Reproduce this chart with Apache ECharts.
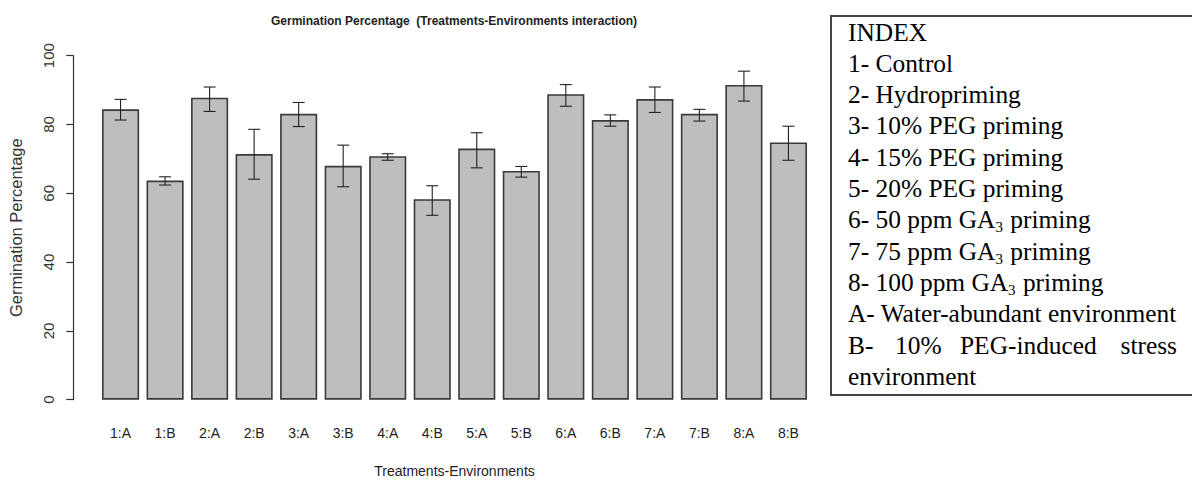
<!DOCTYPE html>
<html>
<head>
<meta charset="utf-8">
<script src="https://cdn.jsdelivr.net/npm/echarts@6/dist/echarts.min.js"></script>
<style>
  html, body { margin: 0; padding: 0; background: #fff; }
  #chart { width: 1192px; height: 483px; }
</style>
</head>
<body>
<div id="chart"></div>
<script>
// Treatment:environment combinations
const categories = ['1:A', '1:B', '2:A', '2:B', '3:A', '3:B', '4:A', '4:B',
                    '5:A', '5:B', '6:A', '6:B', '7:A', '7:B', '8:A', '8:B'];
// Mean germination percentage
const germination = [84.4, 63.7, 87.8, 71.4, 83.1, 68.0, 70.8, 58.3,
                     73.0, 66.5, 88.8, 81.3, 87.4, 83.1, 91.5, 74.8];
// Error bar limits
const errLow  = [81.3, 62.4, 83.8, 64.1, 79.4, 61.9, 69.6, 53.6,
                 67.4, 64.7, 85.3, 79.5, 83.5, 81.0, 86.8, 69.6];
const errHigh = [87.3, 64.8, 90.9, 78.6, 86.4, 74.0, 71.5, 62.2,
                 77.6, 67.8, 91.6, 82.8, 90.9, 84.4, 95.5, 79.5];
// Y axis ticks
const yTicks = [0, 20, 40, 60, 80, 100];

// Index box entries; {s|..} marks a subscript
const indexLines = [
  'INDEX',
  '1- Control',
  '2- Hydropriming',
  '3- 10% PEG priming',
  '4- 15% PEG priming',
  '5- 20% PEG priming',
  '6- 50 ppm GA{s|3} priming',
  '7- 75 ppm GA{s|3} priming',
  '8- 100 ppm GA{s|3} priming',
  'A- Water-abundant environment'
];
const indexLastWords = ['B-', '10%', 'PEG-induced', 'stress'];
const indexLastLine = 'environment';

const chart = echarts.init(document.getElementById('chart'), null, { renderer: 'svg' });

const sansFont = 'Liberation Sans, Arial, sans-serif';
const serifFont = 'Liberation Serif, Times New Roman, serif';

const boxX = 831, boxTop = 16, textX = 848, firstBaseline = 44, lineStep = 31.3, serifSize = 25.4;

const graphics = [{
  type: 'rect',
  shape: { x: boxX, y: boxTop, width: 400, height: 379 },
  style: { fill: '#fff', stroke: '#444', lineWidth: 2 },
  z: 0
}];

indexLines.forEach((t, i) => {
  graphics.push({
    type: 'text',
    x: textX,
    y: firstBaseline + i * lineStep,
    style: {
      text: t,
      font: serifSize + 'px ' + serifFont,
      fill: '#000',
      verticalAlign: 'bottom',
      rich: {
        s: { fontSize: 15, fontFamily: serifFont, fill: '#000', verticalAlign: 'bottom', padding: [0, 1, -3, 0] }
      }
    },
    z: 2
  });
});

// justified line "B- 10% PEG-induced stress"
const bWordX = [848, 895, 960, 1177];
indexLastWords.forEach((w, i) => {
  graphics.push({
    type: 'text',
    x: bWordX[i],
    y: firstBaseline + indexLines.length * lineStep,
    style: {
      text: w,
      font: serifSize + 'px ' + serifFont,
      fill: '#000',
      align: i === indexLastWords.length - 1 ? 'right' : 'left',
      verticalAlign: 'bottom'
    },
    z: 2
  });
});
graphics.push({
  type: 'text',
  x: textX,
  y: firstBaseline + (indexLines.length + 1) * lineStep,
  style: { text: indexLastLine, font: serifSize + 'px ' + serifFont, fill: '#000', verticalAlign: 'bottom' },
  z: 2
});

const option = {
  backgroundColor: '#fff',
  animation: false,
  title: {
    text: 'Germination Percentage  (Treatments-Environments interaction)',
    left: 449,
    textAlign: 'center',
    top: 10,
    textStyle: {
      fontFamily: sansFont,
      fontWeight: 'bold',
      fontSize: 12,
      color: '#222'
    }
  },
  grid: { left: 98.3, right: 381.3, top: 55.7, bottom: 83.3, containLabel: false, outerBoundsMode: 'none' },
  xAxis: {
    type: 'category',
    data: categories,
    name: 'Treatments-Environments',
    nameLocation: 'middle',
    nameGap: 64,
    nameMoveOverlap: false,
    nameTextStyle: { fontFamily: sansFont, fontSize: 14, color: '#222' },
    axisLine: { show: false },
    axisTick: { show: false },
    axisLabel: { fontFamily: sansFont, fontSize: 14, color: '#222', margin: 26, interval: 0 }
  },
  yAxis: {
    type: 'value',
    min: yTicks[0],
    max: yTicks[yTicks.length - 1],
    interval: yTicks[1] - yTicks[0],
    offset: 25,
    name: 'Germination Percentage',
    nameLocation: 'middle',
    nameGap: 49,
    nameMoveOverlap: false,
    nameTextStyle: { fontFamily: sansFont, fontSize: 16.5, color: '#333' },
    axisLine: { show: true, lineStyle: { color: '#333', width: 1.2 } },
    axisTick: { show: true, length: 7, lineStyle: { color: '#333', width: 1.2 } },
    axisLabel: { fontFamily: sansFont, fontSize: 15, color: '#333', rotate: 90, margin: 17 },
    splitLine: { show: false }
  },
  series: [
    {
      type: 'bar',
      data: germination,
      barCategoryGap: '16.67%',
      itemStyle: { color: '#bebebe', borderColor: '#3a3a3a', borderWidth: 1.6 },
      z: 2
    },
    {
      type: 'custom',
      data: categories.map((c, i) => [i, errLow[i], errHigh[i]]),
      encode: { x: 0, y: [1, 2] },
      renderItem: function (params, api) {
        const lo = api.coord([api.value(0), api.value(1)]);
        const hi = api.coord([api.value(0), api.value(2)]);
        const hw = 6;
        const st = { stroke: '#222', lineWidth: 1.1 };
        return {
          type: 'group',
          children: [
            { type: 'line', shape: { x1: hi[0], y1: hi[1], x2: lo[0], y2: lo[1] }, style: st },
            { type: 'line', shape: { x1: hi[0] - hw, y1: hi[1], x2: hi[0] + hw, y2: hi[1] }, style: st },
            { type: 'line', shape: { x1: lo[0] - hw, y1: lo[1], x2: lo[0] + hw, y2: lo[1] }, style: st }
          ]
        };
      },
      z: 3
    }
  ],
  graphic: graphics
};

chart.setOption(option);
</script>
</body>
</html>
